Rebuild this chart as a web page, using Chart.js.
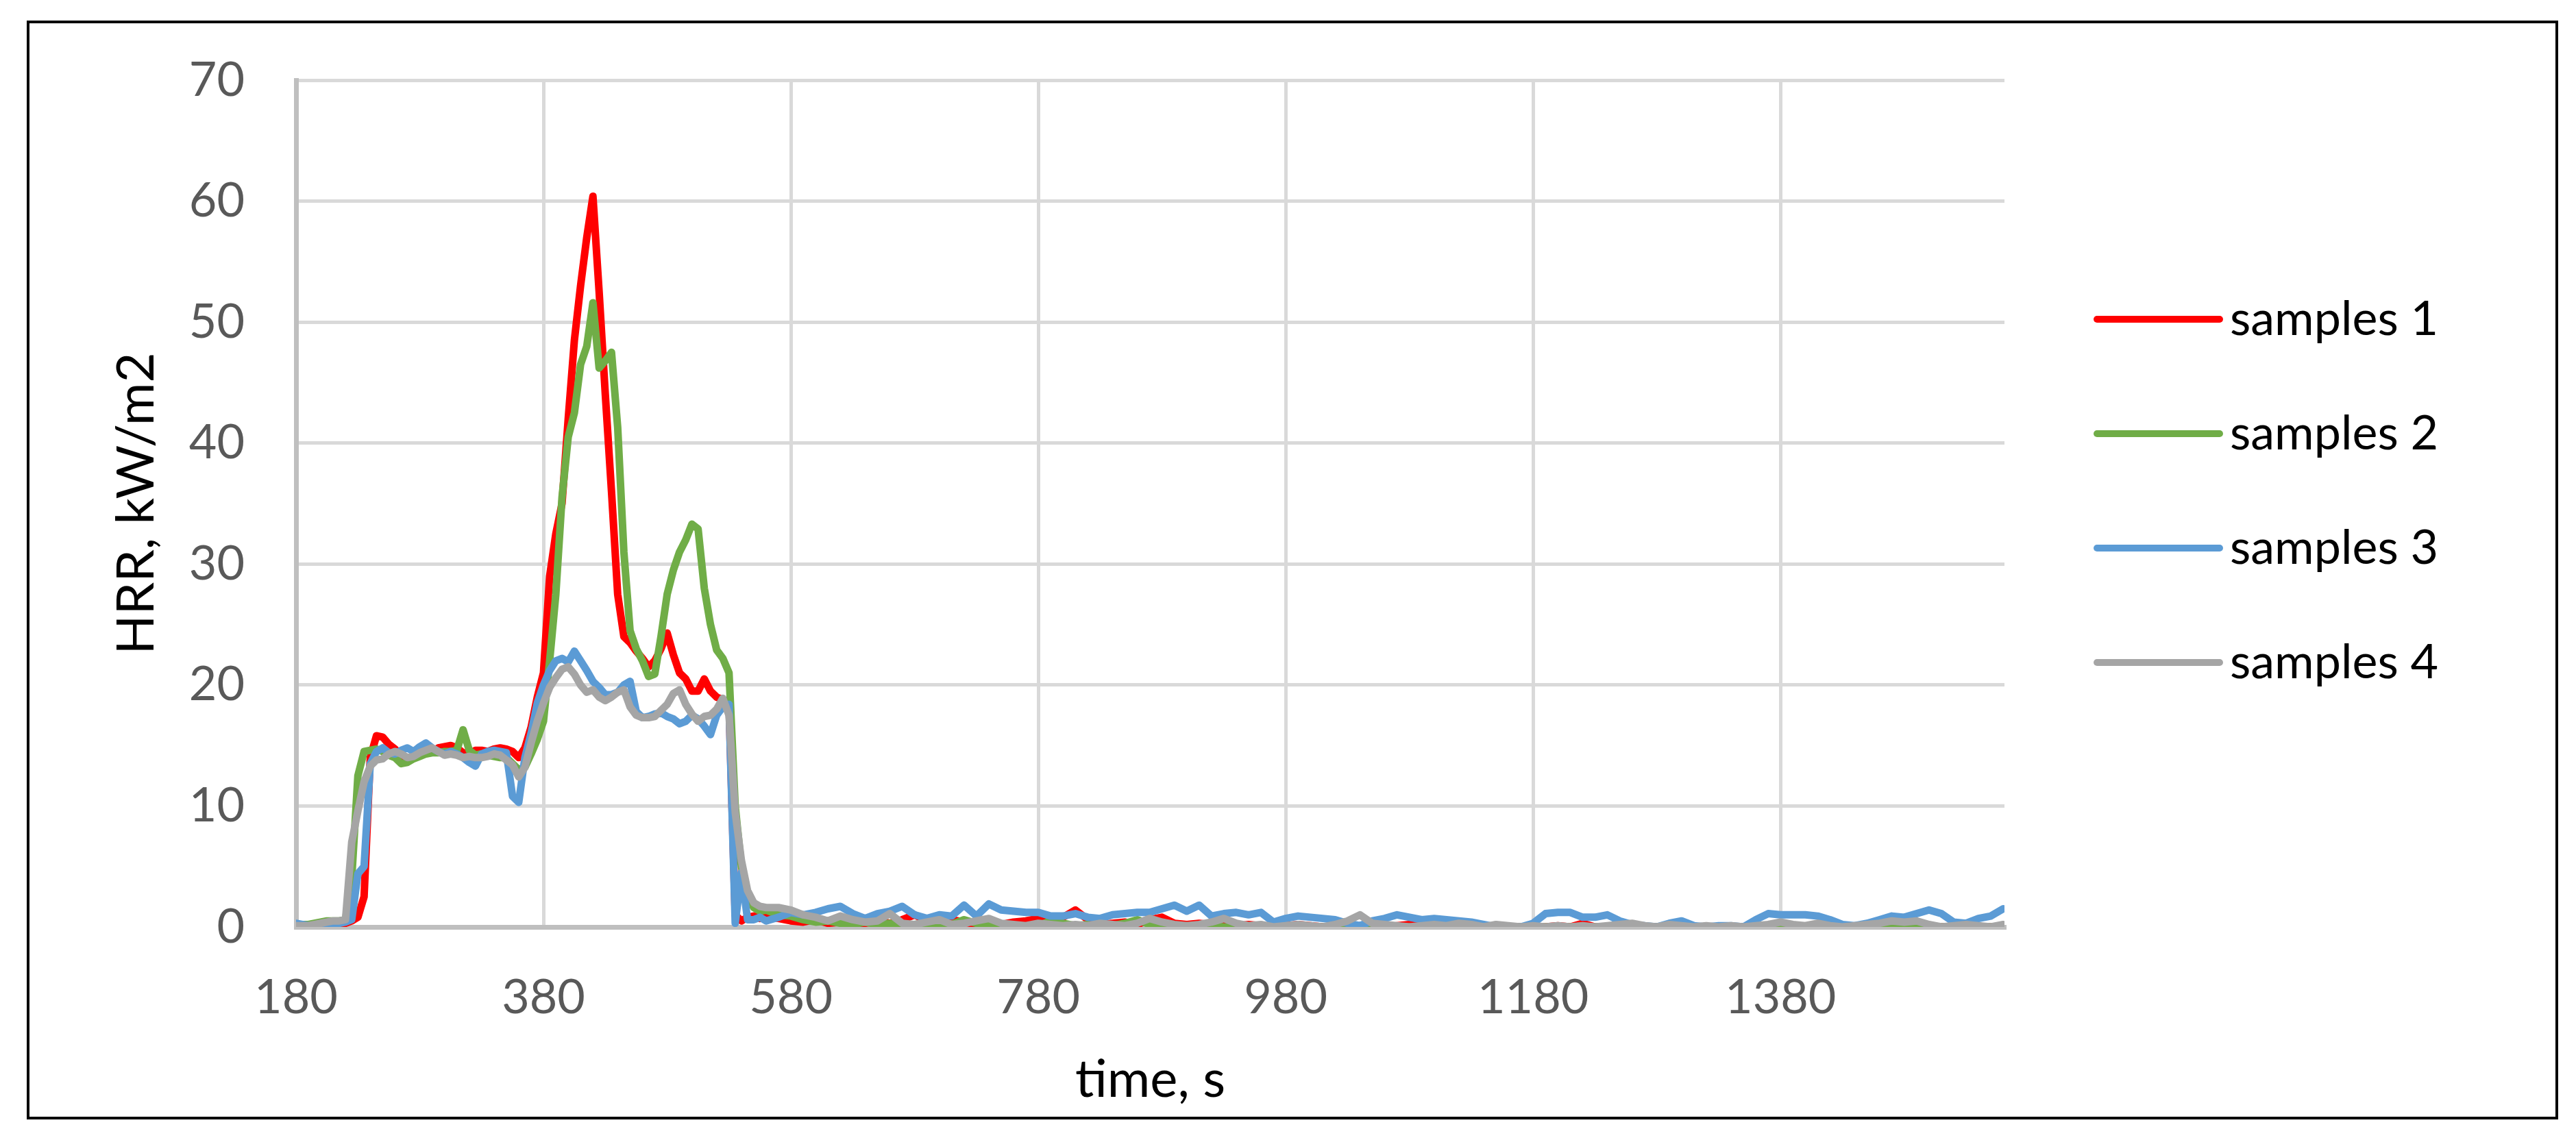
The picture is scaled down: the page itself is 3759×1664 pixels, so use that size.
<!DOCTYPE html>
<html>
<head>
<meta charset="utf-8">
<title>HRR samples</title>
<script src="https://cdn.jsdelivr.net/npm/chart.js@4.4.1/dist/chart.umd.min.js"></script>
<style>
  html, body { margin: 0; padding: 0; background: #ffffff; }
  #wrap { position: relative; width: 3759px; height: 1664px; }
  #frame {
    position: absolute; left: 39px; top: 30px; width: 3694px; height: 1604px;
    border: 4px solid #000; box-sizing: border-box; pointer-events: none;
  }
</style>
</head>
<body>
<div id="wrap">
  <canvas id="hrr" width="3759" height="1664"></canvas>
  <div id="frame"></div>
</div>
<script>
// time, s (5 s steps up to 560, then 10 s steps)
const time = [
  180, 185, 190, 195, 200, 205, 210, 215, 220, 225,
  230, 235, 240, 245, 250, 255, 260, 265, 270, 275,
  280, 285, 290, 295, 300, 305, 310, 315, 320, 325,
  330, 335, 340, 345, 350, 355, 360, 365, 370, 375,
  380, 385, 390, 395, 400, 405, 410, 415, 420, 425,
  430, 435, 440, 445, 450, 455, 460, 465, 470, 475,
  480, 485, 490, 495, 500, 505, 510, 515, 520, 525,
  530, 535, 540, 545, 550, 555, 560,
  570, 580, 590, 600, 610, 620, 630, 640, 650, 660,
  670, 680, 690, 700, 710, 720, 730, 740, 750, 760,
  770, 780, 790, 800, 810, 820, 830, 840, 850, 860,
  870, 880, 890, 900, 910, 920, 930, 940, 950, 960,
  970, 980, 990, 1000, 1010, 1020, 1030, 1040, 1050, 1060,
  1070, 1080, 1090, 1100, 1110, 1120, 1130, 1140, 1150, 1160,
  1170, 1180, 1190, 1200, 1210, 1220, 1230, 1240, 1250, 1260,
  1270, 1280, 1290, 1300, 1310, 1320, 1330, 1340, 1350, 1360,
  1370, 1380, 1390, 1400, 1410, 1420, 1430, 1440, 1450, 1460,
  1470, 1480, 1490, 1500, 1510, 1520, 1530, 1540, 1550, 1560
];

// HRR, kW/m2
const samples1 = [
  0.1, 0.1, 0.0, 0.1, 0.1, 0.2, 0.2, 0.3, 0.3, 0.5,
  0.8, 2.5, 14.0, 15.8, 15.7, 15.1, 14.7, 14.2, 13.8, 14.1,
  14.3, 14.6, 14.5, 14.8, 14.9, 15.0, 14.8, 14.4, 14.3, 14.6,
  14.6, 14.5, 14.7, 14.8, 14.7, 14.5, 14.0, 14.8, 16.5, 19.0,
  21.0, 29.0, 32.5, 35.0, 42.0, 48.5, 53.0, 57.0, 60.4, 52.5,
  44.0, 36.0, 27.5, 24.0, 23.5, 22.8, 22.2, 21.5, 22.0, 23.0,
  24.3, 22.5, 21.0, 20.5, 19.5, 19.5, 20.5, 19.5, 19.0, 18.8,
  18.5, 1.0, 0.5, 0.8, 0.9, 0.7, 0.8,
  0.7, 0.5, 0.4, 0.6, 0.3, 0.4, 0.2, 0.3, 0.5, 0.3,
  0.6, 1.0, 0.5, 0.3, 0.6, 0.4, 0.2, 0.3, 0.2, 0.4,
  0.5, 0.7, 0.3, 0.8, 1.4, 0.6, 0.2, 0.3, 0.4, 0.2,
  0.6, 0.8, 0.3, 0.2, 0.3, 0.2, 0.4, 0.1, 0.2, 0.1,
  0.0, 0.1, 0.2, 0.1, 0.0, 0.1, 0.0, 0.1, 0.0, 0.0,
  0.1, 0.2, 0.0, 0.0, 0.1, 0.0, 0.0, 0.0, 0.1, 0.0,
  0.0, 0.0, 0.0, 0.1, 0.0, 0.3, 0.0, 0.0, 0.0, 0.0,
  0.0, 0.0, 0.0, 0.0, 0.0, 0.0, 0.0, 0.0, 0.0, 0.0,
  0.0, 0.0, 0.0, 0.0, 0.0, 0.0, 0.0, 0.0, 0.0, 0.0,
  0.0, 0.0, 0.0, 0.0, 0.0, 0.0, 0.0, 0.0, 0.0, 0.0
];
const samples2 = [
  0.1, 0.2, 0.2, 0.3, 0.4, 0.5, 0.5, 0.5, 0.6, 4.0,
  12.5, 14.5, 14.6, 14.7, 14.5, 14.2, 14.0, 13.5, 13.6, 13.9,
  14.1, 14.3, 14.4, 14.4, 14.5, 14.5, 14.6, 16.3, 14.6, 14.2,
  14.3, 14.2, 14.1, 14.0, 14.0, 13.5, 13.0, 13.2, 14.3, 15.5,
  17.0, 22.0, 27.5, 35.5, 40.5, 42.5, 46.5, 48.0, 51.6, 46.2,
  46.8, 47.5, 41.3, 31.0, 24.5, 23.0, 22.0, 20.7, 20.9, 24.0,
  27.5, 29.5, 31.0, 32.0, 33.3, 32.9, 28.0, 25.0, 22.9, 22.2,
  21.0, 10.0, 5.0, 2.5, 1.6, 1.3, 1.4,
  1.0, 0.9, 0.6, 0.4, 0.5, 0.3, 0.2, 0.4, 0.2, 0.3,
  0.1, 0.2, 0.3, 0.1, 0.2, 0.6, 0.3, 0.1, 0.2, 0.1,
  0.0, 0.1, 0.5, 0.3, 0.1, 0.2, 0.0, 0.1, 0.3, 0.6,
  0.2, 0.1, 0.0, 0.1, 0.0, 0.1, 0.0, 0.0, 0.1, 0.0,
  0.0, 0.0, 0.1, 0.0, 0.0, 0.0, 0.0, 0.0, 0.1, 0.0,
  0.0, 0.0, 0.0, 0.0, 0.0, 0.0, 0.0, 0.0, 0.0, 0.0,
  0.0, 0.0, 0.0, 0.0, 0.0, 0.0, 0.0, 0.0, 0.0, 0.0,
  0.0, 0.0, 0.0, 0.0, 0.0, 0.0, 0.0, 0.0, 0.0, 0.0,
  0.0, 0.0, 0.0, 0.0, 0.0, 0.0, 0.0, 0.0, 0.0, 0.0,
  0.0, 0.0, 0.0, 0.0, 0.0, 0.0, 0.0, 0.0, 0.0, 0.0
];
const samples3 = [
  0.3, 0.2, 0.1, 0.1, 0.2, 0.1, 0.2, 0.3, 0.4, 0.6,
  4.4, 5.0, 13.5, 14.5, 14.8, 14.4, 14.3, 14.6, 14.8, 14.5,
  14.9, 15.2, 14.8, 14.5, 14.3, 14.5, 14.3, 14.0, 13.6, 13.3,
  14.3, 14.5, 14.6, 14.5, 14.4, 10.8, 10.3, 14.0, 16.0, 18.5,
  20.0, 21.2, 22.0, 22.2, 21.9, 22.8, 22.0, 21.2, 20.3, 19.8,
  19.2, 19.2, 19.4, 20.0, 20.3, 17.8, 17.3, 17.4, 17.6, 17.7,
  17.4, 17.2, 16.8, 17.0, 17.5, 17.2, 16.6, 15.9, 17.5, 18.2,
  18.4, 0.3, 4.5, 0.6, 0.6, 0.8, 0.5,
  0.8, 1.2, 1.0, 1.2, 1.5, 1.7, 1.1, 0.7, 1.1, 1.3,
  1.7, 1.0, 0.7, 1.0, 0.9, 1.8, 0.9, 1.9, 1.4, 1.3,
  1.2, 1.2, 0.9, 0.9, 1.1, 0.8, 0.7, 1.0, 1.1, 1.2,
  1.2, 1.5, 1.8, 1.3, 1.8, 0.9, 1.1, 1.2, 1.0, 1.2,
  0.4, 0.7, 0.9, 0.8, 0.7, 0.6, 0.3, 0.1, 0.5, 0.7,
  1.0, 0.8, 0.6, 0.7, 0.6, 0.5, 0.4, 0.2, 0.0, 0.0,
  0.0, 0.3, 1.1, 1.2, 1.2, 0.8, 0.8, 1.0, 0.5, 0.2,
  0.1, 0.0, 0.3, 0.5, 0.1, 0.0, 0.1, 0.1, 0.0, 0.6,
  1.1, 1.0, 1.0, 1.0, 0.9, 0.6, 0.2, 0.1, 0.3, 0.6,
  0.9, 0.8, 1.1, 1.4, 1.1, 0.4, 0.3, 0.7, 0.9, 1.5
];
const samples4 = [
  0.1, 0.1, 0.1, 0.2, 0.3, 0.4, 0.5, 0.5, 0.6, 7.0,
  9.6, 12.0, 13.3, 13.8, 13.9, 14.3, 14.5, 14.3, 14.0, 14.1,
  14.4, 14.6, 14.8, 14.5, 14.2, 14.3, 14.2, 14.0, 14.1, 14.0,
  14.0, 14.1, 14.3, 14.2, 13.8, 13.4, 12.4, 13.2, 15.2, 17.0,
  18.5, 19.8, 20.6, 21.3, 21.5, 20.9, 20.0, 19.4, 19.6, 19.0,
  18.7, 19.0, 19.4, 19.6, 18.2, 17.5, 17.3, 17.3, 17.4, 17.9,
  18.4, 19.3, 19.6, 18.4, 17.6, 17.0, 17.4, 17.5, 18.0, 18.9,
  17.5, 9.5, 5.5, 3.0, 2.0, 1.7, 1.6,
  1.6, 1.4, 1.0, 0.8, 0.5, 0.9, 0.6, 0.4, 0.5, 1.1,
  0.3, 0.2, 0.4, 0.6, 0.2, 0.3, 0.5, 0.7, 0.3, 0.2,
  0.1, 0.3, 0.2, 0.1, 0.2, 0.1, 0.3, 0.2, 0.1, 0.3,
  0.7, 0.4, 0.2, 0.1, 0.2, 0.4, 0.7, 0.3, 0.1, 0.2,
  0.0, 0.1, 0.2, 0.1, 0.0, 0.2, 0.5, 1.0, 0.3, 0.2,
  0.1, 0.0, 0.1, 0.2, 0.1, 0.3, 0.2, 0.0, 0.2, 0.1,
  0.0, 0.1, 0.0, 0.1, 0.0, 0.1, 0.0, 0.1, 0.2, 0.3,
  0.1, 0.0, 0.2, 0.1, 0.0, 0.1, 0.0, 0.1, 0.0, 0.1,
  0.2, 0.4, 0.2, 0.1, 0.3, 0.1, 0.0, 0.1, 0.2, 0.3,
  0.5, 0.4, 0.5, 0.2, 0.0, 0.1, 0.2, 0.1, 0.0, 0.2
];

const seriesNames = ['samples 1', 'samples 2', 'samples 3', 'samples 4'];
const seriesColors = ['#FF0000', '#70AD47', '#5B9BD5', '#A5A5A5'];
const xTickValues = [180, 380, 580, 780, 980, 1180, 1380];

const FONT = "Lato, 'Open Sans', sans-serif";
const GRID = '#D9D9D9';
const AXIS = '#BFBFBF';

Chart.defaults.font.family = FONT;

// Legend on the right, drawn as simple line + text rows (Excel style)
const sideLegend = {
  id: 'sideLegend',
  afterDraw(chart) {
    const ctx = chart.ctx;
    const x0 = 3060, x1 = 3239, textX = 3254;
    const y0 = 466, rowGap = 167;
    ctx.save();
    ctx.font = `70px ${FONT}`;
    ctx.textAlign = 'left';
    ctx.textBaseline = 'middle';
    chart.data.datasets.forEach((ds, i) => {
      const y = y0 + i * rowGap;
      ctx.strokeStyle = ds.borderColor;
      ctx.lineWidth = 10;
      ctx.lineCap = 'round';
      ctx.beginPath();
      ctx.moveTo(x0, y);
      ctx.lineTo(x1, y);
      ctx.stroke();
      ctx.fillStyle = '#000000';
      ctx.fillText(ds.label, textX, y);
    });
    ctx.restore();
  }
};

const allSeries = [samples1, samples2, samples3, samples4];

new Chart(document.getElementById('hrr'), {
  type: 'line',
  data: {
    labels: time,
    datasets: allSeries.map((values, i) => ({
      label: seriesNames[i],
      data: values,
      borderColor: seriesColors[i],
      backgroundColor: seriesColors[i],
      borderWidth: 11,
      pointRadius: 0,
      tension: 0,
      borderJoinStyle: 'round',
      borderCapStyle: 'round',
      fill: false,
      order: 3 - i // later series sit on top, as in the original
    }))
  },
  options: {
    responsive: false,
    animation: false,
    events: [],
    layout: { padding: { top: 90, right: 834, bottom: 0, left: 0 } },
    plugins: {
      legend: { display: false },
      tooltip: { enabled: false }
    },
    scales: {
      x: {
        type: 'linear',
        min: 180,
        max: 1561,
        afterBuildTicks: (scale) => {
          scale.ticks = xTickValues.map(v => ({ value: v }));
        },
        afterFit: (scale) => { scale.height = 311; },
        grid: { color: GRID, lineWidth: 5, drawTicks: false },
        border: { color: AXIS, width: 7 },
        ticks: {
          autoSkip: false,
          maxRotation: 0,
          padding: 61,
          color: '#595959',
          font: { size: 70 },
          callback: (value) => String(value)
        },
        title: {
          display: true,
          text: 'time, s',
          color: '#000000',
          font: { size: 76 },
          padding: { top: 0, bottom: 42 }
        }
      },
      y: {
        min: 0,
        max: 70,
        afterFit: (scale) => { scale.width = 432; },
        grid: { color: GRID, lineWidth: 5, drawTicks: false },
        border: { color: AXIS, width: 7 },
        ticks: {
          stepSize: 10,
          padding: 75,
          color: '#595959',
          font: { size: 70 }
        },
        title: {
          display: true,
          text: 'HRR, kW/m2',
          color: '#000000',
          font: { size: 76 },
          padding: { top: 154, bottom: 0 }
        }
      }
    }
  },
  plugins: [sideLegend]
});
</script>
</body>
</html>
